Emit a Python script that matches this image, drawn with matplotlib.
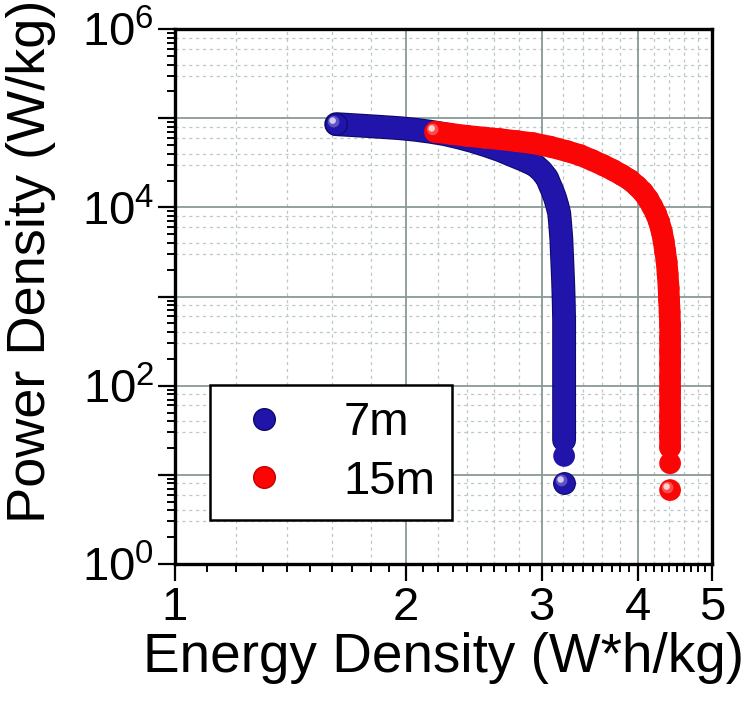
import numpy as np
import matplotlib
matplotlib.use("Agg")
import matplotlib.pyplot as plt
import matplotlib.patheffects as pe
from matplotlib.ticker import FixedLocator, NullFormatter
from matplotlib.transforms import offset_copy
from matplotlib.lines import Line2D

plt.rcParams['font.family'] = ['Liberation Sans', 'DejaVu Sans']

# 7m series (energy density W*h/kg, power density W/kg), low power -> high power
e_7m = [3.21, 3.21, 3.21, 3.21, 3.21, 3.21, 3.21, 3.21, 3.21, 3.21,
        3.21, 3.21, 3.21, 3.21, 3.21,
        3.208, 3.206, 3.203, 3.2, 3.196, 3.192, 3.188, 3.184, 3.177, 3.17,
        3.163, 3.144, 3.125, 3.101, 3.073, 3.051, 3.001, 2.943, 2.839, 2.747,
        2.65, 2.549, 2.443, 2.35, 2.247, 2.148, 2.053, 1.963, 1.877, 1.795,
        1.705, 1.621]
p_7m = [8.1, 16.3, 24.5, 32.5, 41.1, 53.3, 69.0, 89.3, 115.6, 149.6,
        193.6, 250.6, 324.5, 420, 543,
        704, 911, 1180, 1527, 1977, 2559, 3311, 4288, 5550, 7000,
        8610, 10590, 12680, 15200, 18200, 21250, 25470, 29720, 34260, 38480,
        43780, 49200, 55220, 60440, 66190, 70600, 74300, 77240, 79290, 81290,
        83540, 85740]

# 15m series
e_15m = [4.41, 4.41, 4.41, 4.41, 4.41, 4.41, 4.41, 4.41, 4.41, 4.41,
         4.41, 4.41,
         4.41, 4.404, 4.397, 4.391, 4.378, 4.365, 4.345, 4.326, 4.3, 4.268,
         4.23, 4.179, 4.13, 4.067, 3.995, 3.912, 3.819, 3.718, 3.608, 3.491,
         3.368, 3.239, 3.078, 2.925, 2.789, 2.65, 2.532, 2.4, 2.281, 2.181]
p_15m = [6.75, 13.5, 20.3, 27.0, 33.8, 45.6, 63.8, 89.3, 125, 175,
         244, 342,
         478, 668, 911, 1242, 1783, 2431, 3230, 4180, 5410, 6825,
         8390, 10310, 12360, 14800, 17290, 20180, 22960, 26120, 29720, 33810,
         38480, 42660, 47880, 52430, 55220, 58170, 60440, 63350, 67000, 70200]

x_ticks = [1, 2, 3, 4, 5]
x_labels = ['1', '2', '3', '4', '5']
y_ticks = [1, 10, 100, 1e3, 1e4, 1e5, 1e6]
y_labels = [r'$\mathdefault{10^{0}}$', '', r'$\mathdefault{10^{2}}$', '',
            r'$\mathdefault{10^{4}}$', '', r'$\mathdefault{10^{6}}$']

fig = plt.figure(figsize=(7.5, 7.03), dpi=100)
ax = fig.add_axes([0.2333, 0.1977, 0.716, 0.761])
ax.set_xscale('log')
ax.set_yscale('log')
ax.set_xlim(1, 5)
ax.set_ylim(1, 1e6)

# ticks
ax.xaxis.set_major_locator(FixedLocator(x_ticks))
ax.set_xticklabels(x_labels)
minor_x = [v for v in np.round(np.arange(1.1, 5.0, 0.1), 1) if v not in (2.0, 3.0, 4.0)]
ax.xaxis.set_minor_locator(FixedLocator(minor_x))
ax.xaxis.set_minor_formatter(NullFormatter())
ax.yaxis.set_major_locator(FixedLocator(y_ticks))
ax.set_yticklabels(y_labels)
minor_y = [m * 10 ** k for k in range(6) for m in range(2, 10)]
ax.yaxis.set_minor_locator(FixedLocator(minor_y))
ax.yaxis.set_minor_formatter(NullFormatter())

ax.tick_params(which='major', direction='out', length=12, width=1.6,
               labelsize=34, pad=3)
ax.tick_params(which='minor', direction='out', length=6, width=1.4)
ax.tick_params(axis='x', which='major', pad=4)
for s in ax.spines.values():
    s.set_linewidth(2.4)

# grid: solid at decades / integers, sparse dotted minor lines
ax.set_axisbelow(True)
ax.grid(which='major', color='#8a9898', lw=1.3, ls='-')
dot = dict(color='#bcc8c8', lw=0.9, ls=(0, (2.5, 3)), zorder=0.5)
for k in range(6):
    for m in (3, 4, 6, 8):
        ax.axhline(m * 10 ** k, **dot)
for v in np.round(np.arange(1.2, 5.0, 0.2), 1):
    if v not in (2.0, 3.0, 4.0):
        ax.axvline(v, **dot)

ax.set_xlabel('Energy Density (W*h/kg)', fontsize=39.5, labelpad=1)
ax.set_ylabel('Power Density (W/kg)', fontsize=39)
ax.yaxis.set_label_coords(-0.222, 0.565)


def draw_series(E, P, face, edge, shine, z, outline):
    # continuous band
    effects = [pe.Stroke(linewidth=17.2, foreground=edge), pe.Normal()] if outline else None
    ax.plot(E[2:], P[2:], color=face, lw=15.6, solid_capstyle='round',
            solid_joinstyle='round', zorder=z, path_effects=effects)
    pts = ax.transData.transform(np.column_stack([E, P]))
    hl = offset_copy(ax.transData, fig=fig, x=-3.5, y=3.5, units='dots')
    glow = offset_copy(ax.transData, fig=fig, x=-2.5, y=2.5, units='dots')
    n = len(E)
    for i in range(n):
        zz = z + 0.1 + i * 0.001
        gap = np.hypot(*(pts[i + 1] - pts[i])) if i < n - 1 else 99
        alone = gap > 20
        ax.scatter([E[i]], [P[i]], s=245, c=face,
                   edgecolors=edge if (alone and outline) else 'none',
                   linewidths=0.8, zorder=zz)
        if alone:
            ax.scatter([E[i]], [P[i]], s=70, c=shine, alpha=0.35,
                       edgecolors='none', zorder=zz + 0.0003, transform=glow)
            ax.scatter([E[i]], [P[i]], s=22, c=shine, edgecolors='none',
                       zorder=zz + 0.0006, transform=hl)


draw_series(e_7m, p_7m, '#2014aa', '#0c0a66', '#d4c8f4', 3, True)
draw_series(e_15m, p_15m, '#fb0606', '#c80000', '#ffd0d0', 4, False)

handles = [
    Line2D([], [], ls='none', marker='o', markersize=15.6,
           markerfacecolor='#2014aa', markeredgecolor='#0c0a66'),
    Line2D([], [], ls='none', marker='o', markersize=15.6,
           markerfacecolor='#fb0606', markeredgecolor='#c80000'),
]
leg = ax.legend(handles, ['7m', '15m'], loc='lower left',
                bbox_to_anchor=(0.065, 0.082), fontsize=34, frameon=True,
                fancybox=False, framealpha=1, edgecolor='black',
                handlelength=1.6, handletextpad=0.88, borderpad=0.35,
                labelspacing=0.3, borderaxespad=0)
leg.get_frame().set_linewidth(1.8)
leg.set_zorder(10)

fig.savefig('out.png', dpi=100)
